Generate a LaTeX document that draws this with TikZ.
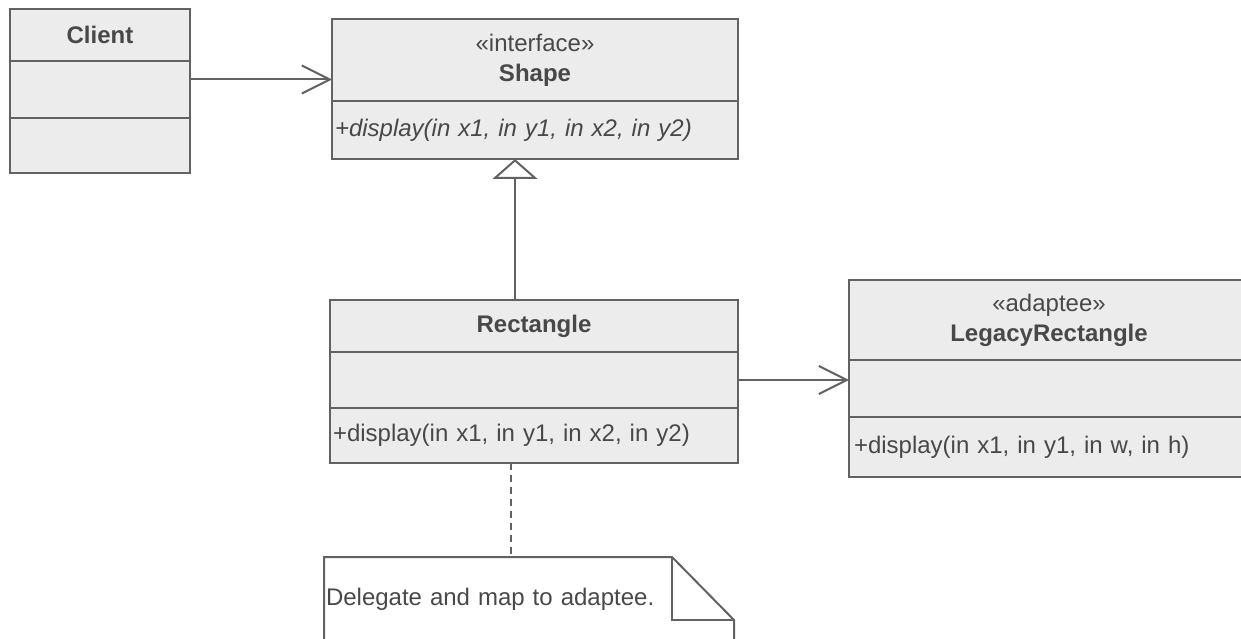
\documentclass[tikz,border=0pt]{standalone}
\usepackage{fontspec}
\setmainfont{Liberation Sans}
\usetikzlibrary{arrows.meta,positioning}

\definecolor{umlline}{RGB}{98,98,98}
\definecolor{umlfill}{RGB}{236,236,236}
\definecolor{umltext}{RGB}{72,72,72}
\newcommand{\umlfont}{\fontsize{24}{30}\selectfont}

\tikzset{
    classpart/.style={draw=umlline, fill=umlfill, line width=2pt, minimum width=#1,
        inner sep=0pt, outer sep=0pt, text=umltext, font=\umlfont, align=center},
    opspart/.style={inner xsep=3pt, align=left},
    notebox/.style={fill=white, inner sep=0pt, inner xsep=2pt, outer sep=0pt, text=umltext,
        font=\umlfont, align=left},
    assoc/.style={draw=umlline, line width=2pt, -{Straight Barb[length=28pt, width=28pt]}},
    realize/.style={draw=umlline, line width=2pt, -{Triangle[open, length=20pt, width=45pt, fill=white]}},
    notelink/.style={draw=umlline, line width=2pt, dash pattern=on 7pt off 5pt},
}

\begin{document}
\begin{tikzpicture}[x=1pt, y=-1pt]
    \useasboundingbox (0,0) rectangle (1241,639);

    % Client
    \node[classpart=180, minimum height=52, anchor=north west, font=\umlfont\bfseries] (client) at (10,9) {Client};
    \node[classpart=180, minimum height=57, below=0pt of client] (client-attrs) {};
    \node[classpart=180, minimum height=55, below=0pt of client-attrs] (client-ops) {};

    % Shape
    \node[classpart=406, minimum height=82, anchor=north west] (shape) at (332,19) {«interface»\\\textbf{Shape}};
    \node[classpart=406, minimum height=58, below=0pt of shape, opspart, text width=400pt, font=\umlfont\itshape] (shape-ops) {+display(in x1, in y1, in x2, in y2)};

    % Rectangle
    \node[classpart=408, minimum height=52, anchor=north west, font=\umlfont\bfseries] (rectangle) at (330,300) {Rectangle};
    \node[classpart=408, minimum height=56, below=0pt of rectangle] (rect-attrs) {};
    \node[classpart=408, minimum height=55, below=0pt of rect-attrs, opspart, text width=402pt] (rect-ops) {+display(in x1, in y1, in x2, in y2)};

    % LegacyRectangle
    \node[classpart=400, minimum height=80, anchor=north west] (legacy) at (849,280) {«adaptee»\\\textbf{LegacyRectangle}};
    \node[classpart=400, minimum height=57, below=0pt of legacy] (legacy-attrs) {};
    \node[classpart=400, minimum height=60, below=0pt of legacy-attrs, opspart, text width=390pt, inner xsep=5pt] (legacy-ops) {+display(in x1, in y1, in w, in h)};

    % note
    \node[notebox, anchor=north west, minimum width=410, minimum height=84, text width=406pt] (note) at (324,557) {Delegate and map to adaptee.};
    \draw[umlline, line width=2pt] (note.south west) -- (note.north west) -- ([xshift=-62pt]note.north east)
        -- ([yshift=-63pt]note.north east) -- (note.south east);
    \draw[umlline, line width=2pt] ([xshift=-62pt]note.north east) -- ([xshift=-62pt, yshift=-63pt]note.north east)
        -- ([yshift=-63pt]note.north east);

    % connectors
    \draw[assoc] ([yshift=10pt]client-attrs.east) -- ([yshift=10pt]client-attrs.east -| shape.west);
    \draw[realize] ([xshift=-19pt]rectangle.north) -- ([xshift=-19pt]rectangle.north |- shape-ops.south);
    \draw[assoc] (rect-attrs.east) -- (rect-attrs.east -| legacy-attrs.west);
    \draw[notelink] ([xshift=-23pt]rect-ops.south) -- ([xshift=-23pt]rect-ops.south |- note.north);
\end{tikzpicture}
\end{document}
